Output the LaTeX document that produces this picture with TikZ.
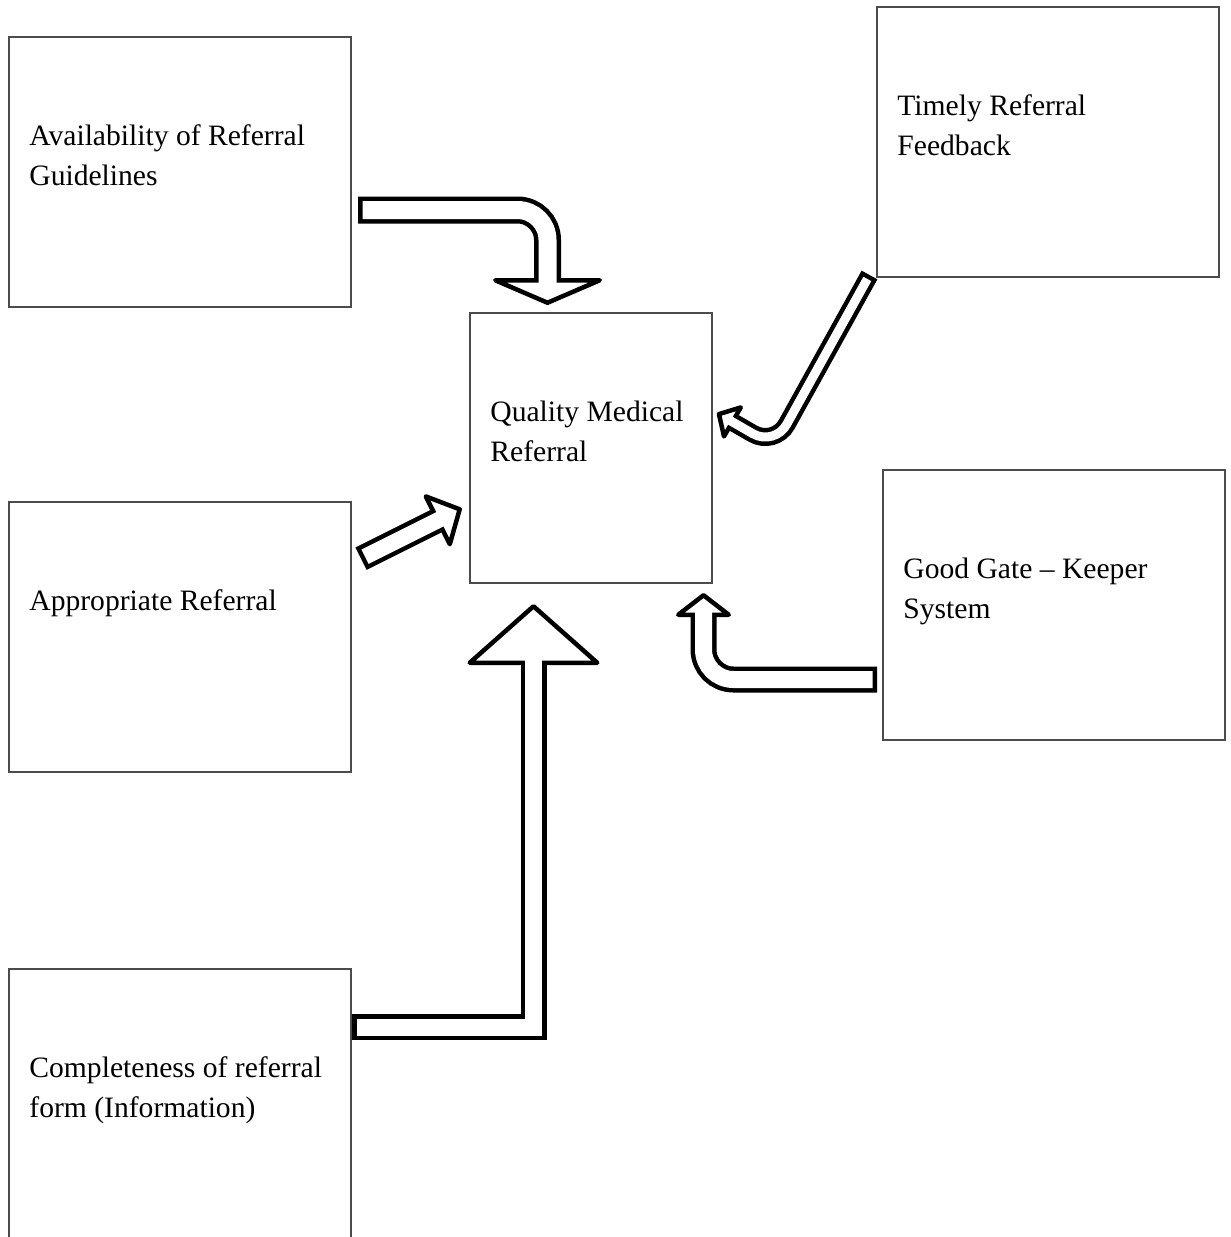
\documentclass[tikz,border=0pt]{standalone}
\usepackage{fontspec}
\setmainfont{Liberation Serif}
\usepackage{tikz}
\usetikzlibrary{positioning, calc}

\begin{document}
\begin{tikzpicture}[x=0.5pt, y=-0.5pt]
        \tikzset{ box/.style ={draw=black!70, line width=0.7pt, minimum width=171pt, minimum height=135pt, inner sep=0pt, outer sep=0pt} }
        \tikzset{ txt/.style ={anchor=north west, align=left, inner sep=0pt, font=\fontsize{14.8}{20}\selectfont} }
        \tikzset{ shaftout/.style={draw=black, line width=#1} }
        \tikzset{ shaftin/.style ={draw=white, line width=#1, shorten <=2.25pt, shorten >=-3.5pt} }
        \tikzset{ head/.style    ={draw=black, fill=white, line width=2.25pt, line join=round} }

        \clip (0,0) rectangle (1231,1237);

        % boxes
        \node[box] (avail)    at (180 , 172) {};
        \node[box] (timely)   at (1048, 142) {};
        \node[box, minimum width=121pt] (quality) at (591, 448) {};
        \node[box] (approp)   at (180 , 637) {};
        \node[box] (gate)     at (1054, 605) {};
        \node[box] (complete) at (180 ,1104) {};

        \node[txt] (availT)    at ([shift={(20,87.5)}]avail.north west)    {Availability of Referral\\Guidelines};
        \node[txt] (timelyT)   at ([shift={(20,87.5)}]timely.north west)   {Timely Referral\\Feedback};
        \node[txt] (qualityT)  at ([shift={(20,87.5)}]quality.north west)  {Quality Medical\\Referral};
        \node[txt] (appropT)   at ([shift={(20,87.5)}]approp.north west)   {Appropriate Referral};
        \node[txt] (gateT)     at ([shift={(20,87.5)}]gate.north west)     {Good Gate -- Keeper\\System};
        \node[txt] (completeT) at ([shift={(20,87.5)}]complete.north west) {Completeness of referral\\form (Information)};

        % arrow tails and head bases
        \coordinate (availOut)    at (358  , 210);
        \coordinate (availBase)   at (547.5, 278);
        \coordinate (timelyOut)   at (869.5, 275);
        \coordinate (timelyBend)  at (774.6, 446.2);
        \coordinate (timelyBase)  at (734.3, 423);
        \coordinate (appropOut)   at (361  , 558.7);
        \coordinate (appropBase)  at (435.8, 521.3);
        \coordinate (gateOut)     at (877  , 679.5);
        \coordinate (gateBase)    at (703.5, 617);
        \coordinate (completeOut) at (352  ,1027);
        \coordinate (completeBase) at (533.5, 665);

        % availability -> quality
        \draw[shaftout=13.5pt, rounded corners=15pt] (availOut) -| (availBase);
        \draw[head] (547.5,302.75) -- (599.75,280.25) -- (495.25,280.25) -- cycle;
        \draw[shaftin=9pt, rounded corners=15pt] (availOut) -| (availBase);

        % timely -> quality
        \draw[shaftout=9pt, rounded corners=12.5pt] (timelyOut) -- (timelyBend) -- (timelyBase);
        \draw[head] (718.95,414.1) -- (740.8,407.4) -- (724.0,436.4) -- cycle;
        \draw[shaftin=4.5pt, rounded corners=12.5pt] (timelyOut) -- (timelyBend) -- (timelyBase);

        % appropriate -> quality
        \draw[shaftout=12.5pt] (appropOut) -- (appropBase);
        \draw[head] (459.7,509.3) -- (449.8,544.2) -- (425.8,496.4) -- cycle;
        \draw[shaftin=8pt] (appropOut) -- (appropBase);

        % gate keeper -> quality
        \draw[shaftout=13pt, rounded corners=15pt] (gateOut) -| (gateBase);
        \draw[head] (703.5,595.25) -- (728.75,614.75) -- (678.25,614.75) -- cycle;
        \draw[shaftin=8.5pt, rounded corners=15pt] (gateOut) -| (gateBase);

        % completeness -> quality
        \draw[shaftout=13pt] (completeOut) -| (completeBase);
        \draw[head] (533.5,606.25) -- (597.25,662.75) -- (469.75,662.75) -- cycle;
        \draw[shaftin=8.5pt] (completeOut) -| (completeBase);
\end{tikzpicture}
\end{document}
